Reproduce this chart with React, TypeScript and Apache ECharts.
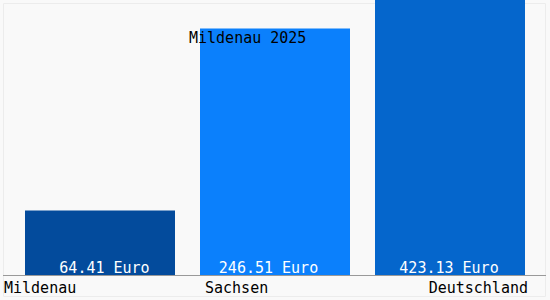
import React, { useEffect, useRef } from "react";
import * as echarts from "echarts";

const categories = ["Mildenau", "Sachsen", "Deutschland"];
const values = [64.41, 246.51, 423.13];
const barColors = ["#034b9c", "#0b80fc", "#0566cc"];
const titleText = "Mildenau 2025";
const unit = "Euro";

export default function App() {
  const ref = useRef<HTMLDivElement>(null);
  useEffect(() => {
    if (!ref.current) return;
    const chart = echarts.init(ref.current, undefined, { renderer: "svg" });
    const font = "'DejaVu Sans Mono', monospace";
    const labelPos = [
      { x: 4, align: "left" },
      { x: 205, align: "left" },
      { x: 528, align: "right" },
    ];
    const valueLabelShift = [4.5, -6.5, -1];
    chart.setOption({
      animation: false,
      backgroundColor: "#f9f9f9",
      title: {
        text: titleText,
        left: 189,
        top: 30,
        padding: 0,
        textStyle: { fontFamily: font, fontSize: 15, fontWeight: "normal", color: "#000" },
      },
      grid: { left: 12.5, right: 12.5, top: 0, bottom: 25 },
      xAxis: {
        type: "category",
        data: categories,
        axisLine: { show: false },
        axisTick: { show: false },
        axisLabel: { show: false },
      },
      yAxis: {
        type: "value",
        min: 0,
        max: 275,
        show: false,
        splitLine: { show: false },
      },
      series: [
        {
          type: "bar",
          barWidth: 150,
          clip: true,
          data: values.map((v, i) => ({
            value: v,
            itemStyle: { color: barColors[i] },
            label: { offset: [valueLabelShift[i], 0] },
          })),
          label: {
            show: true,
            position: "insideBottom",
            distance: 0,
            color: "#fff",
            fontFamily: font,
            fontSize: 15,
            formatter: (p: any) => `${p.value.toFixed(2)} ${unit}`,
          },
        },
      ],
      graphic: [
        {
          type: "rect",
          shape: { x: 3.5, y: 3.5, width: 542, height: 293 },
          style: { fill: "none", stroke: "#ececec", lineWidth: 1 },
          silent: true,
        },
        {
          type: "line",
          shape: { x1: 3, y1: 275.5, x2: 546, y2: 275.5 },
          style: { stroke: "#999", lineWidth: 1 },
          silent: true,
        },
        ...categories.map((c, i) => ({
          type: "text",
          x: labelPos[i].x,
          y: 287.5,
          style: {
            text: c,
            fill: "#000",
            font: `15px ${font}`,
            align: labelPos[i].align,
            verticalAlign: "middle",
          },
        })),
      ],
    });
    return () => chart.dispose();
  }, []);
  return (
    <div
      ref={ref}
      style={{ position: "fixed", left: 0, top: 0, width: 550, height: 300 }}
    />
  );
}
